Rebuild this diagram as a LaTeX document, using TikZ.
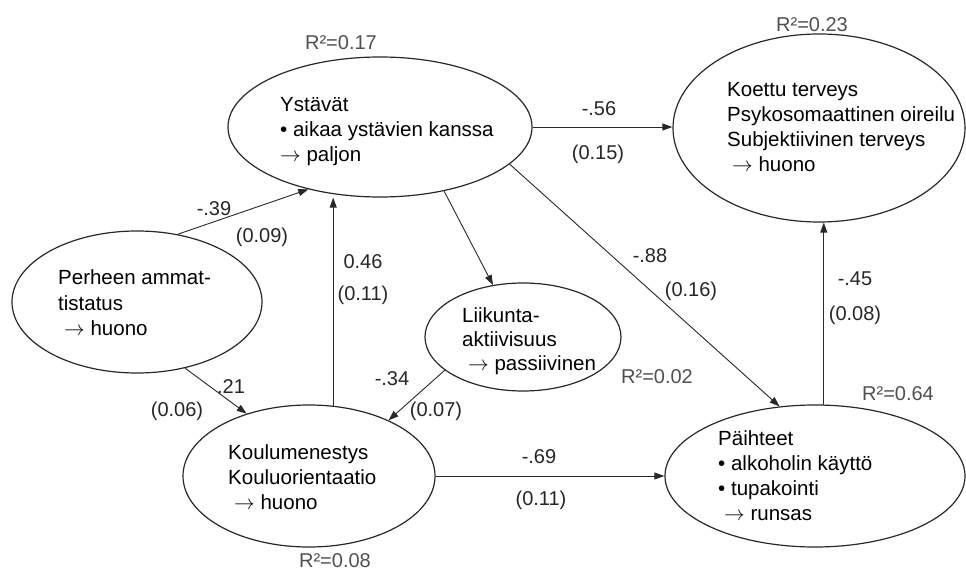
\documentclass[tikz,border=0pt]{standalone}
\usepackage{fontspec}
\setmainfont{Liberation Sans}
\usetikzlibrary{arrows.meta,shapes.geometric}
\definecolor{LineClr}{RGB}{40,40,40}
\definecolor{RsqClr}{RGB}{80,80,80}

\begin{document}
\begin{tikzpicture}[x=1bp,y=-1bp,
  var/.style={ellipse,draw=LineClr,line width=1.2bp,inner sep=0pt},
  txt/.style={anchor=base west,align=left,inner sep=0pt,
    font=\fontsize{20.5bp}{25bp}\selectfont},
  coef/.style={anchor=base,inner sep=0pt,text=black!85,
    font=\fontsize{20bp}{24bp}\selectfont},
  rsq/.style={coef,text=RsqClr},
  path/.style={draw=LineClr,line width=0.9bp,-{Triangle[length=10bp,width=7bp]}}]
\useasboundingbox (0,0) rectangle (966,571);

% latent variables
\node[var,minimum width=304bp,minimum height=140bp] (yst) at (380,127) {};
\node[var,minimum width=292bp,minimum height=188bp] (kot) at (819,128) {};
\node[var,minimum width=250bp,minimum height=142bp] (per) at (137,302) {};
\node[var,minimum width=196bp,minimum height=108bp] (lii) at (523,337) {};
\node[var,minimum width=252bp,minimum height=142bp] (kou) at (309,476) {};
\node[var,minimum width=300bp,minimum height=142bp] (pai) at (815,476) {};

% texts, placed on their last baseline
\node[txt] (ystTxt) at (280,162) {Ystävät\\• aikaa ystävien kanssa\\$\rightarrow$ paljon};
\node[txt] (kotTxt) at (727,172) {Koettu terveys\\Psykosomaattinen oireilu\\Subjektiivinen terveys\\\hspace*{5bp}$\rightarrow$ huono};
\node[txt] (perTxt) at (58,335) {Perheen ammat-\\tistatus\\\hspace*{6bp}$\rightarrow$ huono};
\node[txt,font=\fontsize{20.5bp}{24bp}\selectfont] (liiTxt) at (462,370) {Liikunta-\\aktiivisuus\\\hspace*{6bp}$\rightarrow$ passiivinen};
\node[txt] (kouTxt) at (228,509) {Koulumenestys\\Kouluorientaatio\\\hspace*{6bp}$\rightarrow$ huono};
\node[txt] (paiTxt) at (718,520) {Päihteet\\• alkoholin käyttö\\• tupakointi\\\hspace*{6bp}$\rightarrow$ runsas};

% paths
\draw[path] (per.59) -- (yst.221);
\draw[path] (kou.71) -- (kou.71 |- yst.south);
\draw[path] (yst.315) -- (lii.120);
\draw[path] (yst.east) -- (yst.east -| kot.west);
\draw[path] (yst.344) -- (pai.117);
\draw[path] (per.306) -- (kou.135);
\draw[path] (lii.203) -- (kou.35);
\draw[path] (kou.east) -- (kou.east -| pai.west);
\draw[path] (pai.83) -- (pai.83 |- kot.south);

% coefficients
\node[coef] (c1) at (214,216) {-.39};
\node[coef] (s1) at (262,243) {(0.09)};
\node[coef] (c2) at (363,269) {0.46};
\node[coef] (s2) at (363,300) {(0.11)};
\node[coef] (c3) at (599,116) {-.56};
\node[coef] (s3) at (598,160) {(0.15)};
\node[coef] (c4) at (650,263) {-.88};
\node[coef] (s4) at (691,296) {(0.16)};
\node[coef] (c5) at (855,286) {-.45};
\node[coef] (s5) at (855,320) {(0.08)};
\node[coef] (c6) at (231,393) {.21};
\node[coef] (s6) at (177,416) {(0.06)};
\node[coef] (c7) at (392,385) {-.34};
\node[coef] (s7) at (436,416) {(0.07)};
\node[coef] (c8) at (539,463) {-.69};
\node[coef] (s8) at (541,505) {(0.11)};

% explained variance
\node[rsq] (r1) at (341,50) {R²=0.17};
\node[rsq] (r2) at (812,32) {R²=0.23};
\node[rsq] (r3) at (657,383) {R²=0.02};
\node[rsq] (r4) at (898,400) {R²=0.64};
\node[rsq] (r5) at (335,567) {R²=0.08};

\end{tikzpicture}
\end{document}
